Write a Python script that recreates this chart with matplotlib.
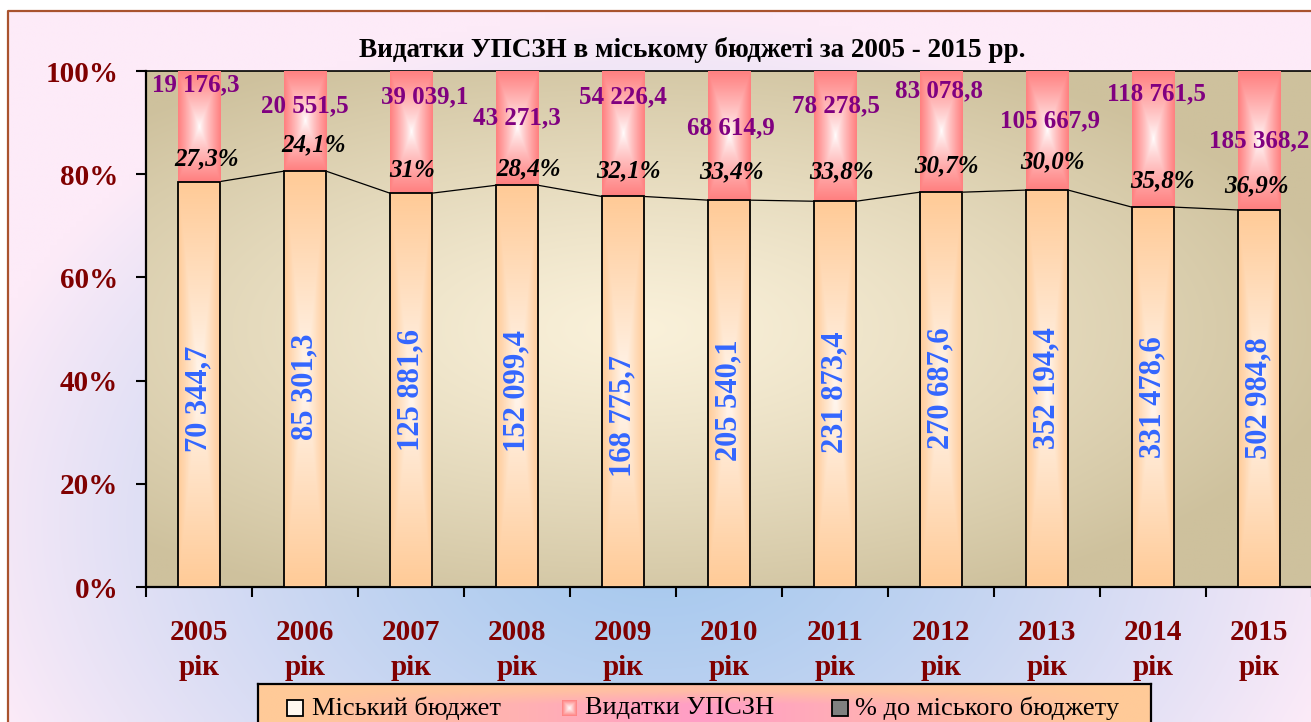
import numpy as np
import matplotlib.pyplot as plt
from matplotlib.patches import Rectangle
from matplotlib.colors import to_rgb

plt.rcParams['font.family'] = ['Liberation Serif', 'DejaVu Serif']

years = ['2005', '2006', '2007', '2008', '2009', '2010', '2011', '2012', '2013', '2014', '2015']
city_budget = [70344.7, 85301.3, 125881.6, 152099.4, 168775.7, 205540.1,
               231873.4, 270687.6, 352194.4, 331478.6, 502984.8]
upszn = [19176.3, 20551.5, 39039.1, 43271.3, 54226.4, 68614.9,
         78278.5, 83078.8, 105667.9, 118761.5, 185368.2]
share_labels = ['27,3%', '24,1%', '31%', '28,4%', '32,1%', '33,4%',
                '33,8%', '30,7%', '30,0%', '35,8%', '36,9%']

# label placement (as in the original, labels were moved by hand)
up_lab_y = [97.3, 93.2, 95.0, 90.9, 95.0, 89.0, 93.2, 96.1, 90.3, 95.5, 86.4]
up_lab_dx = [-0.03, 0, 0.13, 0, 0, 0.02, 0.01, -0.02, 0.03, 0.03, 0]
share_y = [82.9, 85.7, 80.8, 81.0, 80.6, 80.4, 80.4, 81.6, 82.4, 78.7, 77.7]
share_dx = [0.075, 0.085, 0.01, 0.11, 0.05, 0.02, 0.066, 0.05, 0.05, 0.09, -0.02]
city_lab_y = [36.4, 38.8, 38.2, 38.0, 33.1, 36.3, 37.8, 38.5, 38.5, 36.8, 36.6]

W, H = 1311, 722
DARKRED = '#800000'


def fmt(v):
    return f'{v:,.1f}'.replace(',', ' ').replace('.', ',')


def mix(c0, c1, t):
    c0 = np.array(to_rgb(c0))
    c1 = np.array(to_rgb(c1))
    return c0 + (c1 - c0) * t[..., None]


def rect_gradient(ax, x0, y0, w, h, edge, center, power=1.0, zorder=2):
    u = np.linspace(-1, 1, 60)
    U, V = np.meshgrid(u, u)
    t = np.maximum(np.abs(U), np.abs(V)) ** power
    ax.imshow(mix(center, edge, t), extent=(x0, x0 + w, y0, y0 + h), origin='lower',
              aspect='auto', interpolation='bilinear', zorder=zorder)


fig = plt.figure(figsize=(W / 100, H / 100), dpi=100, facecolor='white')

# figure background with border
bg = fig.add_axes([0, 0, 1, 1], zorder=-10)
bg.axis('off')
X, Y = np.meshgrid(np.linspace(0, 1, 200), np.linspace(0, 1, 120))
t = np.clip(np.sqrt(((X - 0.5) / 0.55) ** 2 + ((Y - 0.72) / 0.72) ** 2), 0, 1) ** 1.3
bg.imshow(mix('#A4C8EE', '#FDEBF8', t), extent=(8, W, H, 11), aspect='auto',
          interpolation='bilinear')
bg.plot([8, 8, W], [H, 11, 11], color='#A9532E', lw=1.6)
bg.set_xlim(0, W)
bg.set_ylim(H, 0)

ax = fig.add_axes([146 / W, 1 - 587 / H, (1312 - 146) / W, (587 - 71) / H])

total = np.array(city_budget) + np.array(upszn)
city_pct = np.array(city_budget) / total * 100
up_pct = np.array(upszn) / total * 100
x = np.arange(len(years))
bw = 0.4

# plot area background
Xa, Ya = np.meshgrid(np.linspace(0, 1, 200), np.linspace(0, 1, 200))
ta = np.clip(np.sqrt(((Xa - 0.42) / 0.62) ** 2 + ((Ya - 0.5) / 0.58) ** 2), 0, 1) ** 1.2
ax.imshow(mix('#FAF1DA', '#CEC19D', ta), extent=(0, 1, 0, 1), transform=ax.transAxes,
          origin='lower', aspect='auto', interpolation='bilinear', zorder=0)

bars_city = ax.bar(x, city_pct, bw, color='none', edgecolor='black', lw=1.3, zorder=4)
bars_up = ax.bar(x, up_pct, bw, bottom=city_pct, color='none', edgecolor='none', zorder=4)

for b in bars_city:
    rect_gradient(ax, b.get_x(), b.get_y(), b.get_width(), b.get_height(),
                  '#FFCB98', '#FFF8F2', power=0.9, zorder=3)
for b in bars_up:
    rect_gradient(ax, b.get_x(), b.get_y(), b.get_width(), b.get_height(),
                  '#FF8080', '#FFFFFF', power=0.8, zorder=3)

# series lines
for i in range(len(x) - 1):
    ax.plot([x[i] + bw / 2, x[i + 1] - bw / 2], [city_pct[i], city_pct[i + 1]],
            color='black', lw=0.9, zorder=2)

for i in range(len(x)):
    ax.text(x[i] + up_lab_dx[i], up_lab_y[i], fmt(upszn[i]), ha='center', va='center',
            fontsize=18, fontweight='bold', color='#800080', zorder=6)
    ax.text(x[i] + share_dx[i], share_y[i], share_labels[i], ha='center', va='center',
            fontsize=18, fontweight='bold', fontstyle='italic', color='black', zorder=6)
    ax.text(x[i], city_lab_y[i], fmt(city_budget[i]), ha='center', va='center',
            rotation=90, fontsize=22, fontweight='bold', color='#3366FF', zorder=6)

ax.set_xlim(-0.5, len(x) - 0.5)
ax.set_ylim(0, 100)
ax.set_yticks(np.arange(0, 101, 20))
ax.set_yticklabels([f'{v}%' for v in range(0, 101, 20)])
ax.set_xticks(x)
ax.set_xticklabels([f'{y}\nрік' for y in years], linespacing=1.4)
ax.set_xticks(np.arange(-0.5, len(x), 1), minor=True)
ax.tick_params(axis='x', which='major', length=0, pad=23)
ax.tick_params(axis='x', which='minor', length=7, width=1.5, direction='out')
ax.tick_params(axis='y', length=7, width=1.5, pad=13)
for lab in ax.get_xticklabels() + ax.get_yticklabels():
    lab.set_fontsize(21)
    lab.set_fontweight('bold')
    lab.set_color(DARKRED)
for side in ['left', 'bottom']:
    ax.spines[side].set_linewidth(1.6)
ax.spines['top'].set_linewidth(1.2)
ax.spines['right'].set_visible(False)

fig.text(692 / W, 1 - 50 / H, 'Видатки УПСЗН в міському бюджеті за 2005 - 2015 рр.',
         ha='center', va='center', fontsize=19.5, fontweight='bold')

# legend box
leg = fig.add_axes([258 / W, -14 / H, (1151 - 258) / W, (736 - 684) / H], zorder=5)
leg.set_xticks([])
leg.set_yticks([])
for s in leg.spines.values():
    s.set_linewidth(1.6)
Xl, Yl = np.meshgrid(np.linspace(258, 1151, 300), np.linspace(684, 736, 40))
sl = np.clip(1 - np.abs(Xl - 700) / 420, 0, 1) * np.clip((Yl - 684) / 20, 0.3, 1)
leg.imshow(mix('#FFCA98', '#FF9EC6', sl), extent=(258, 1151, 736, 684), aspect='auto',
           interpolation='bilinear')

ly = 708
leg.add_patch(Rectangle((287, ly - 8), 16, 16, facecolor='#FFF8F0', edgecolor='black', lw=1.3))
leg.text(312, ly, 'Міський бюджет', va='center', fontsize=19)
rect_gradient(leg, 562, ly - 8, 15, 16, '#FF8080', '#FFFFFF', zorder=3)
leg.text(585, ly, 'Видатки УПСЗН', va='center', fontsize=19)
leg.add_patch(Rectangle((832, ly - 8), 16, 16, facecolor='#808080', edgecolor='black', lw=1.3))
leg.text(855, ly, '% до міського бюджету', va='center', fontsize=19)
leg.set_xlim(258, 1151)
leg.set_ylim(736, 684)

fig.savefig('out.png', dpi=100)
